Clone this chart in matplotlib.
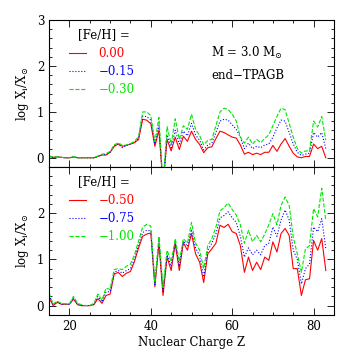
import numpy as np
import matplotlib
matplotlib.use("Agg")
import matplotlib.pyplot as plt
from matplotlib.ticker import MultipleLocator

plt.rcParams['font.family'] = ['DejaVu Serif']
plt.rcParams['mathtext.fontset'] = 'dejavuserif'

Z = np.arange(15, 84)

# top panel: [Fe/H] = 0.00, -0.15, -0.30
top_labels = ['0.00', '\u22120.15', '\u22120.30']
top_red = [0.03, 0.01, 0.02, 0.01, 0.0, 0.0, 0.02, 0.0, 0.0, 0.0,
           0.0, 0.0, 0.03, 0.06, 0.06, 0.12, 0.25, 0.3, 0.25, 0.27,
           0.3, 0.33, 0.4, 0.84, 0.82, 0.74, 0.25, 0.6, -0.6, 0.4,
           0.15, 0.45, 0.18, 0.47, 0.36, 0.58, 0.4, 0.29, 0.11, 0.22,
           0.24, 0.42, 0.58, 0.55, 0.5, 0.45, 0.43, 0.28, 0.08, 0.12,
           0.07, 0.1, 0.07, 0.12, 0.12, 0.27, 0.14, 0.3, 0.42, 0.25,
           0.1, 0.02, 0.0, 0.03, 0.03, 0.3, 0.2, 0.25, 0.0]
top_blue = [0.03, 0.01, 0.02, 0.01, 0.0, 0.0, 0.02, 0.0, 0.0, 0.0,
            0.0, 0.0, 0.03, 0.07, 0.07, 0.12, 0.26, 0.3, 0.22, 0.27,
            0.3, 0.34, 0.43, 0.9, 0.9, 0.82, 0.3, 0.7, -0.6, 0.5,
            0.22, 0.6, 0.3, 0.58, 0.48, 0.75, 0.5, 0.38, 0.17, 0.28,
            0.32, 0.55, 0.8, 0.84, 0.82, 0.72, 0.62, 0.45, 0.2, 0.32,
            0.2, 0.25, 0.22, 0.28, 0.3, 0.45, 0.65, 0.82, 0.8, 0.55,
            0.3, 0.12, 0.05, 0.08, 0.1, 0.55, 0.45, 0.55, 0.2]
top_green = [0.04, 0.02, 0.02, 0.01, 0.0, 0.0, 0.03, 0.0, 0.0, 0.0,
             0.0, 0.0, 0.04, 0.08, 0.09, 0.14, 0.28, 0.33, 0.27, 0.28,
             0.31, 0.36, 0.46, 1.0, 1.0, 0.92, 0.35, 0.88, -0.6, 0.68,
             0.3, 0.85, 0.4, 0.7, 0.62, 0.95, 0.62, 0.48, 0.28, 0.38,
             0.4, 0.7, 1.0, 1.08, 1.05, 0.95, 0.8, 0.45, 0.32, 0.45,
             0.3, 0.4, 0.33, 0.42, 0.5, 0.7, 0.9, 1.08, 1.05, 0.75,
             0.45, 0.2, 0.1, 0.15, 0.15, 0.8, 0.67, 0.9, 0.38]

# bottom panel: [Fe/H] = -0.50, -0.75, -1.00
bot_labels = ['\u22120.50', '\u22120.75', '\u22121.00']
bot_red = [0.18, 0.0, 0.07, 0.03, 0.03, 0.03, 0.14, 0.02, 0.0, 0.0,
           0.0, 0.02, 0.15, 0.05, 0.22, 0.25, 0.68, 0.72, 0.63, 0.7,
           0.74, 0.96, 1.25, 1.5, 1.55, 1.57, 0.41, 1.35, 0.22, 1.05,
           0.76, 1.34, 0.76, 1.36, 1.2, 1.56, 1.12, 0.94, 0.5, 1.12,
           1.23, 1.35, 1.74, 1.69, 1.76, 1.6, 1.56, 1.3, 0.72, 1.05,
           0.76, 0.94, 0.78, 1.05, 0.98, 1.38, 1.16, 1.56, 1.67, 1.52,
           0.8, 0.8, 0.22, 0.56, 0.58, 1.41, 1.2, 1.45, 0.76]
bot_blue = [0.22, 0.02, 0.08, 0.03, 0.03, 0.03, 0.17, 0.03, 0.0, 0.0,
            0.0, 0.03, 0.2, 0.08, 0.3, 0.3, 0.72, 0.76, 0.7, 0.76,
            0.8, 1.02, 1.32, 1.58, 1.63, 1.62, 0.45, 1.42, 0.3, 1.1,
            0.85, 1.38, 0.85, 1.4, 1.28, 1.65, 1.25, 1.08, 0.62, 1.2,
            1.35, 1.55, 1.9, 1.95, 2.03, 1.9, 1.8, 1.5, 1.05, 1.25,
            1.1, 1.2, 1.1, 1.3, 1.35, 1.7, 1.5, 1.85, 2.07, 1.85,
            1.2, 1.0, 0.47, 0.8, 0.9, 1.7, 1.6, 1.88, 1.23]
bot_green = [0.27, 0.03, 0.1, 0.05, 0.04, 0.04, 0.2, 0.05, 0.02, 0.0,
             0.0, 0.05, 0.25, 0.12, 0.38, 0.35, 0.78, 0.8, 0.78, 0.85,
             0.9, 1.1, 1.4, 1.7, 1.76, 1.72, 0.5, 1.5, 0.4, 1.2,
             0.95, 1.45, 0.95, 1.45, 1.35, 1.8, 1.35, 1.2, 0.8, 1.3,
             1.45, 1.7, 2.05, 2.12, 2.22, 2.08, 1.96, 1.75, 1.35, 1.63,
             1.38, 1.52, 1.38, 1.55, 1.75, 1.99, 1.75, 2.17, 2.35, 2.17,
             1.48, 1.12, 0.72, 1.23, 1.3, 2.1, 1.92, 2.54, 1.85]

colors = ['#ff0000', '#0000ff', '#00e600']
styles = ['-', ':', '--']

fig = plt.figure(figsize=(3.53, 3.53), dpi=100)
ax1 = fig.add_axes([0.139, 0.527, 0.807, 0.416])
ax2 = fig.add_axes([0.139, 0.108, 0.807, 0.419])


def style_axes(ax, yticks):
    ax.set_xlim(15, 85)
    ax.set_ylim(-0.2, 3)
    ax.xaxis.set_major_locator(MultipleLocator(20))
    ax.xaxis.set_minor_locator(MultipleLocator(5))
    ax.set_yticks(yticks)
    ax.yaxis.set_minor_locator(MultipleLocator(0.2))
    ax.tick_params(which='both', direction='in', top=True, right=True,
                   labelsize=8.5, width=0.6)
    ax.tick_params(which='major', length=5)
    ax.tick_params(which='minor', length=2.5)
    for s in ax.spines.values():
        s.set_linewidth(0.8)
    ax.set_ylabel(r'log X$_{\rm i}$/X$_{\odot}$', fontsize=8.5, labelpad=4)


for ax, series, labels in [(ax1, [top_red, top_blue, top_green], top_labels),
                           (ax2, [bot_red, bot_blue, bot_green], bot_labels)]:
    for ys, c, ls, lab in zip(series, colors, styles, labels):
        ax.plot(Z, ys, color=c, ls=ls, lw=0.8, label=lab)
    ax.legend(loc='upper left', frameon=False, fontsize=8.5,
              labelcolor='linecolor', handlelength=1.4, handletextpad=1.1,
              labelspacing=0.42, borderaxespad=0.0,
              bbox_to_anchor=(0.054, 0.85))
    ax.text(0.102, 0.902, '[Fe/H] =', transform=ax.transAxes,
            fontsize=8.5, va='center')

style_axes(ax1, [0, 1, 2, 3])
style_axes(ax2, [0, 1, 2])
ax1.set_xticklabels([])

ax1.text(0.57, 0.775, r'M = 3.0 M$_{\odot}$', transform=ax1.transAxes,
         fontsize=8.5, va='center')
ax1.text(0.57, 0.62, 'end\u2212TPAGB', transform=ax1.transAxes,
         fontsize=8.5, va='center')
ax2.set_xlabel('Nuclear Charge Z', fontsize=8.5, labelpad=2)

fig.savefig('out.png', dpi=100)
